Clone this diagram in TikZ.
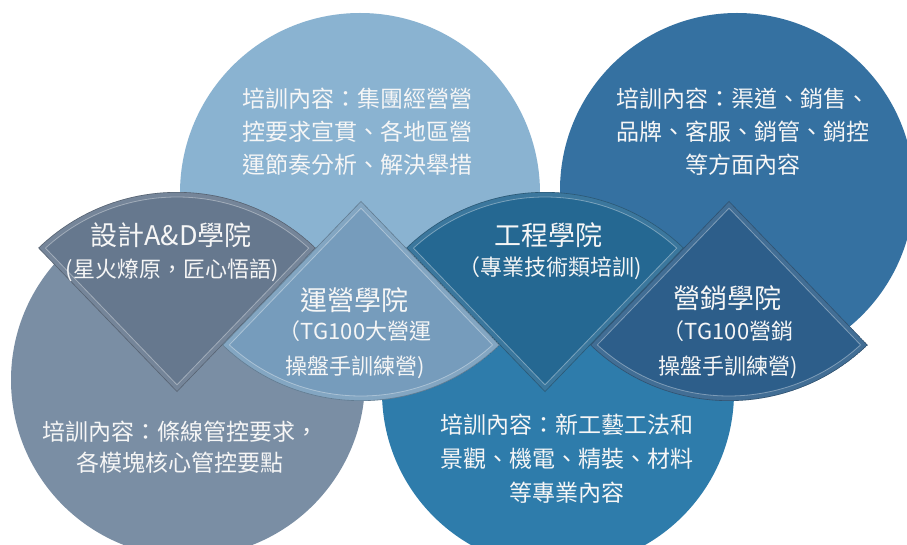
\documentclass[tikz,border=0pt]{standalone}
\usepackage{fontspec}
\setmainfont{Noto Sans CJK TC}
\definecolor{cA}{RGB}{122,142,164}
\definecolor{fA}{RGB}{102,120,142}
\definecolor{cB}{RGB}{138,179,209}
\definecolor{fB}{RGB}{118,156,188}
\definecolor{cC}{RGB}{46,124,171}
\definecolor{fC}{RGB}{37,104,146}
\definecolor{cD}{RGB}{53,113,161}
\definecolor{fD}{RGB}{45,94,138}
\definecolor{txt}{RGB}{246,246,246}
\tikzset{
  bodytext/.style={text=txt, align=center, font=\fontsize{23}{33}\selectfont, inner sep=0pt},
  titletext/.style={text=txt, font=\fontsize{27}{30}\selectfont, inner sep=0pt},
  subtext/.style={text=txt, align=center, font=\fontsize{22}{35}\selectfont, inner sep=0pt},
  bevelstrip/.style={fill=white, fill opacity=0.10, even odd rule},
  bevelline/.style={draw=white, draw opacity=0.35, line width=0.8pt},
  edgeline/.style={draw=black, draw opacity=0.25, line width=1.2pt},
}
% down-pointing fan: #1 apex, #2 colour
\newcommand{\mydownfan}[2]{%
  \begin{scope}
    \clip #1 -- ++(46.07:200) arc[start angle=46.07,end angle=133.93,radius=200] -- cycle;
    \fill[#2] #1 -- ++(46.07:200) arc[start angle=46.07,end angle=133.93,radius=200] -- cycle;
    \path[bevelstrip] #1 -- ++(46.07:200) arc[start angle=46.07,end angle=133.93,radius=200] -- cycle
      #1 ++(0,7.2) -- ++(46.07:189.8) arc[start angle=47.55,end angle=132.45,radius=195] -- cycle;
    \path[bevelline] #1 ++(0,7.2) -- ++(46.07:189.8) arc[start angle=47.55,end angle=132.45,radius=195] -- cycle;
    \path[edgeline] #1 -- ++(46.07:200) arc[start angle=46.07,end angle=133.93,radius=200] -- cycle;
  \end{scope}}
% up-pointing fan
\newcommand{\myupfan}[2]{%
  \begin{scope}
    \clip #1 -- ++(226.07:200) arc[start angle=226.07,end angle=313.93,radius=200] -- cycle;
    \fill[#2] #1 -- ++(226.07:200) arc[start angle=226.07,end angle=313.93,radius=200] -- cycle;
    \path[bevelstrip] #1 -- ++(226.07:200) arc[start angle=226.07,end angle=313.93,radius=200] -- cycle
      #1 ++(0,-7.2) -- ++(226.07:189.8) arc[start angle=227.55,end angle=312.45,radius=195] -- cycle;
    \path[bevelline] #1 ++(0,-7.2) -- ++(226.07:189.8) arc[start angle=227.55,end angle=312.45,radius=195] -- cycle;
    \path[edgeline] #1 -- ++(226.07:200) arc[start angle=226.07,end angle=313.93,radius=200] -- cycle;
  \end{scope}}
\begin{document}
\begin{tikzpicture}[x=1pt,y=1pt]
\useasboundingbox (0,0) rectangle (907,544);
\fill[white] (0,0) rectangle (907,544);
\begin{scope}
\clip (0,0) rectangle (907,544);
% circles
\fill[cA] (188,164) circle[radius=177];
\fill[cC] (558,152) circle[radius=176];
\fill[cB] (360,351) circle[radius=180];
\fill[cD] (737,354) circle[radius=177];
% fans
\mydownfan{(177,152)}{fA}
\mydownfan{(545,152)}{fC}
\myupfan{(361,343)}{fB}
\myupfan{(729,343)}{fD}
\end{scope}
% circle texts
\node[bodytext] (t2) at (357,412) {培訓內容：集團經營營\\控要求宣貫、各地區營\\運節奏分析、解決舉措};
\node[bodytext] (t4) at (743,412) {培訓內容：渠道、銷售、\\品牌、客服、銷管、銷控\\等方面內容};
\node[bodytext, font=\fontsize{23}{31}\selectfont] (t1) at (180,97) {培訓內容：條線管控要求，\\各模塊核心管控要點};
\node[bodytext, font=\fontsize{23}{34}\selectfont] (t3) at (567,85) {培訓內容：新工藝工法和\\景觀、機電、精裝、材料\\等專業內容};
% fan texts
\node[titletext] (f1) at (171,309) {設計A\&D學院};
\node[subtext] (f1s) at (172,274) {(星火燎原，匠心悟語)};
\node[titletext] (f2) at (354,244) {運營學院};
\node[subtext] (f2s) at (355,194.5) {（TG100大營運\\操盤手訓練營)};
\node[titletext] (f3) at (548,309) {工程學院};
\node[subtext] (f3s) at (550,276) {（專業技術類培訓)};
\node[titletext] (f4) at (727,246) {營銷學院};
\node[subtext] (f4s) at (728,194) {（TG100營銷\\操盤手訓練營)};
\end{tikzpicture}
\end{document}
